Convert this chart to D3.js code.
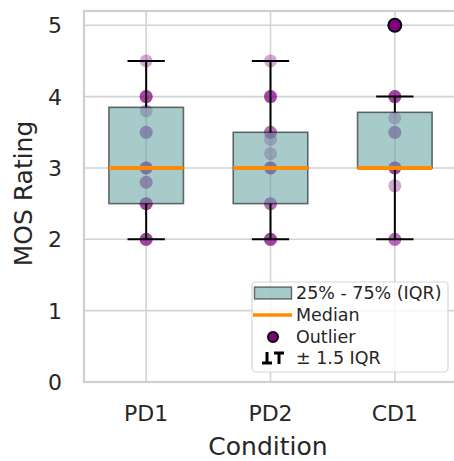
<!DOCTYPE html>
<html><head><meta charset="utf-8">
<script src="https://cdn.jsdelivr.net/npm/d3@7"></script>
<style>body{margin:0;background:#fff}svg{display:block;font-family:"DejaVu Sans",sans-serif}</style>
</head><body><svg id="c" width="454" height="461"></svg>
<script>
const categories = ["PD1", "PD2", "CD1"];
const q1 = [2.5, 2.5, 3.0];
const median = [3.0, 3.0, 3.0];
const q3 = [3.85, 3.5, 3.78];
const whiskerLow = [2.0, 2.0, 2.0];
const whiskerHigh = [4.5, 4.5, 4.0];
const pointsPD1 = [4.5, 4, 4, 4, 3.8, 3.5, 3.5, 3, 3, 3, 2.8, 2.8, 2.5, 2.5, 2.5, 2, 2, 2];
const pointsPD2 = [4.5, 4, 4, 4, 3.5, 3.5, 3.4, 3.2, 3, 3, 3, 2.5, 2.5, 2, 2, 2];
const pointsCD1 = [4, 4, 4, 3.7, 3.5, 3.5, 3, 3, 3, 2.75, 2, 2];
const outliers = [[], [], [5]];
const yTicks = [0, 1, 2, 3, 4, 5];
const points = [pointsPD1, pointsPD2, pointsCD1];

const svg = d3.select("#c");
const L = 84, R = 457, T = 11, B = 382;
const x = d3.scaleLinear().domain([-0.5, 2.5]).range([L, R]);
const y = d3.scaleLinear().domain([0, 5.2]).range([B, T]);
const bw = x(0.3) - x(0), cw = x(0.15) - x(0);

const g = svg.append("g");
g.selectAll(".gy").data(yTicks).join("line")
  .attr("x1", L).attr("x2", R).attr("y1", d => y(d)).attr("y2", d => y(d))
  .attr("stroke", "#d3d3d3").attr("stroke-width", 1.6);
g.selectAll(".gx").data(categories).join("line")
  .attr("x1", (d, i) => x(i)).attr("x2", (d, i) => x(i)).attr("y1", T).attr("y2", B)
  .attr("stroke", "#d3d3d3").attr("stroke-width", 1.6);
g.append("rect").attr("x", L).attr("y", T).attr("width", R - L).attr("height", B - T)
  .attr("fill", "none").attr("stroke", "#cfcfcf").attr("stroke-width", 2.2);

categories.forEach((c, i) => {
  g.selectAll(".p" + i).data(points[i]).join("circle")
    .attr("cx", x(i)).attr("cy", d => y(d)).attr("r", 6.5)
    .attr("fill", "purple").attr("fill-opacity", 0.35);
});
g.selectAll(".box").data(categories).join("rect")
  .attr("x", (d, i) => x(i) - bw).attr("width", 2 * bw)
  .attr("y", (d, i) => y(q3[i])).attr("height", (d, i) => y(q1[i]) - y(q3[i]))
  .attr("fill", "rgb(95,158,160)").attr("fill-opacity", 0.55)
  .attr("stroke", "rgba(0,0,0,0.55)").attr("stroke-width", 1.6);
categories.forEach((c, i) => {
  const w = g.append("g").attr("stroke", "#000").attr("stroke-width", 2);
  w.append("line").attr("x1", x(i)).attr("x2", x(i)).attr("y1", y(q3[i])).attr("y2", y(whiskerHigh[i]));
  w.append("line").attr("x1", x(i)).attr("x2", x(i)).attr("y1", y(q1[i])).attr("y2", y(whiskerLow[i]));
  w.append("line").attr("x1", x(i) - cw).attr("x2", x(i) + cw).attr("y1", y(whiskerHigh[i])).attr("y2", y(whiskerHigh[i]));
  w.append("line").attr("x1", x(i) - cw).attr("x2", x(i) + cw).attr("y1", y(whiskerLow[i])).attr("y2", y(whiskerLow[i]));
});
g.selectAll(".med").data(median).join("line")
  .attr("x1", (d, i) => x(i) - bw).attr("x2", (d, i) => x(i) + bw)
  .attr("y1", d => y(d)).attr("y2", d => y(d))
  .attr("stroke", "#ff8c00").attr("stroke-width", 4);
categories.forEach((c, i) => {
  g.selectAll(".o" + i).data(outliers[i]).join("circle")
    .attr("cx", x(i)).attr("cy", d => y(d)).attr("r", 6.5)
    .attr("fill", "purple").attr("stroke", "#000").attr("stroke-width", 2);
});

svg.selectAll(".yt").data(yTicks).join("text")
  .attr("x", 62).attr("y", d => y(d)).attr("dy", "0.36em").attr("text-anchor", "end")
  .attr("font-size", 22).attr("fill", "#262626").text(d => d);
svg.selectAll(".xt").data(categories).join("text")
  .attr("x", (d, i) => x(i)).attr("y", 421).attr("text-anchor", "middle")
  .attr("font-size", 22).attr("fill", "#262626").text(d => d);
svg.append("text").attr("x", (L + 454) / 2 - 1).attr("y", 455).attr("text-anchor", "middle")
  .attr("font-size", 25).attr("fill", "#262626").text("Condition");
svg.append("text").attr("transform", `translate(32,${(T + B) / 2 - 3}) rotate(-90)`)
  .attr("text-anchor", "middle").attr("font-size", 25).attr("fill", "#262626").text("MOS Rating");

const lg = svg.append("g");
lg.append("rect").attr("x", 252).attr("y", 282).attr("width", 196).attr("height", 90).attr("rx", 4)
  .attr("fill", "rgba(255,255,255,0.8)").attr("stroke", "#d6d6d6").attr("stroke-width", 1.2);
const rows = [293, 315, 337, 358];
const labels = ["25% - 75% (IQR)", "Median", "Outlier", "\u00b1 1.5 IQR"];
lg.append("rect").attr("x", 254.5).attr("y", rows[0] - 6).attr("width", 37).attr("height", 12)
  .attr("fill", "rgb(95,158,160)").attr("fill-opacity", 0.55).attr("stroke", "rgba(0,0,0,0.55)").attr("stroke-width", 1.4);
lg.append("line").attr("x1", 253).attr("x2", 292).attr("y1", rows[1]).attr("y2", rows[1])
  .attr("stroke", "#ff8c00").attr("stroke-width", 3.5);
lg.append("circle").attr("cx", 273).attr("cy", rows[2]).attr("r", 5)
  .attr("fill", "purple").attr("stroke", "#000").attr("stroke-width", 2);
const wk = lg.append("g").attr("stroke", "#000").attr("stroke-width", 3);
wk.append("line").attr("x1", 267).attr("x2", 267).attr("y1", rows[3] - 6).attr("y2", rows[3] + 5);
wk.append("line").attr("x1", 262).attr("x2", 272).attr("y1", rows[3] + 5).attr("y2", rows[3] + 5);
wk.append("line").attr("x1", 279).attr("x2", 279).attr("y1", rows[3] - 5).attr("y2", rows[3] + 6);
wk.append("line").attr("x1", 274).attr("x2", 284).attr("y1", rows[3] - 5).attr("y2", rows[3] - 5);
lg.selectAll(".lt").data(labels).join("text")
  .attr("x", 296).attr("y", (d, i) => rows[i]).attr("dy", "0.36em")
  .attr("font-size", 17.5).attr("fill", "#262626").text(d => d);
</script></body></html>
